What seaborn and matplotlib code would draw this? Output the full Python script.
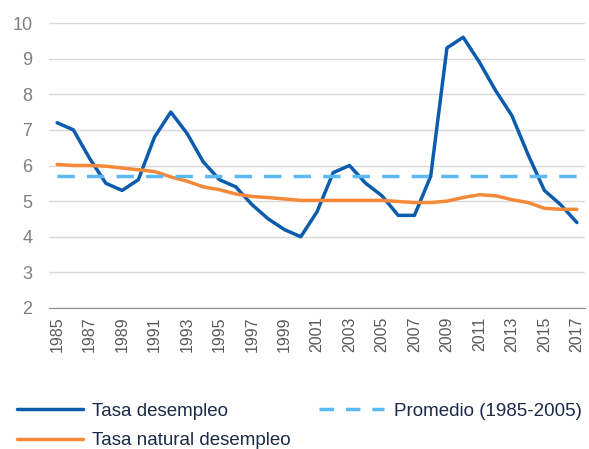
import numpy as np
import pandas as pd
import matplotlib
matplotlib.use("Agg")
import matplotlib.pyplot as plt
import seaborn as sns
from matplotlib.lines import Line2D
from matplotlib.ticker import FixedLocator

years = list(range(1985, 2018))
tasa_desempleo = [7.2, 7.0, 6.2, 5.5, 5.3, 5.6, 6.8, 7.5, 6.9, 6.1, 5.6, 5.4, 4.9,
                  4.5, 4.2, 4.0, 4.7, 5.8, 6.0, 5.5, 5.15, 4.6, 4.6, 5.7, 9.3, 9.6,
                  8.9, 8.1, 7.4, 6.3, 5.3, 4.9, 4.4]
tasa_natural = [6.03, 6.0, 6.0, 5.98, 5.93, 5.88, 5.83, 5.68, 5.56, 5.4, 5.32, 5.2,
                5.13, 5.1, 5.06, 5.02, 5.02, 5.02, 5.02, 5.02, 5.02, 4.99, 4.96, 4.96,
                5.0, 5.1, 5.18, 5.15, 5.04, 4.96, 4.8, 4.77, 4.77]
promedio = 5.7
promedio_span = [1985, 2017]

c_blue = "#0B5CAD"
c_orange = "#F5893A"
c_light = "#5BB9F6"

sns.set_style("white")
plt.rcParams["font.family"] = ["Liberation Sans", "DejaVu Sans"]

df = pd.DataFrame({"year": years, "tasa": tasa_desempleo, "natural": tasa_natural})

fig = plt.figure(figsize=(5.89, 4.49), dpi=100)
ax = fig.add_axes([49 / 589, 1 - 308 / 449, 536 / 589, 285 / 449])

sns.lineplot(data=df, x="year", y="tasa", color=c_blue, linewidth=2.5, ax=ax)
sns.lineplot(data=df, x="year", y="natural", color=c_orange, linewidth=2.5, ax=ax)
sns.lineplot(x=promedio_span, y=[promedio, promedio], color=c_light, linewidth=2.5,
             ax=ax).lines[-1].set_dashes([5, 3.5])

ax.set_ylim(2, 10)
ax.set_xlim(1984.5, 2017.5)
ax.set_yticks(range(2, 11))
ax.set_xticks(years[::2])
ax.set_xticklabels([str(y) for y in years[::2]], rotation=90)
ax.xaxis.set_minor_locator(FixedLocator(np.arange(1984.5, 2018, 1)))
ax.tick_params(axis="x", which="major", length=0, pad=6, labelsize=11.5, labelcolor="#595959")
ax.tick_params(axis="x", which="minor", length=4, color="#8C8C8C", width=1)
ax.tick_params(axis="y", length=0, pad=12, labelsize=13, labelcolor="#7F7F7F")
ax.set_xlabel("")
ax.set_ylabel("")
ax.yaxis.grid(True, color="#D9D9D9", linewidth=1)
ax.set_axisbelow(True)
for s in ["left", "right", "top"]:
    ax.spines[s].set_visible(False)
ax.spines["bottom"].set_color("#8C8C8C")

handles = [
    Line2D([], [], color=c_blue, linewidth=2.5),
    Line2D([], [], color=c_orange, linewidth=2.5),
    Line2D([], [], color=c_light, linewidth=2.5, dashes=[4.2, 3.4]),
]
labels = ["Tasa desempleo", "Tasa natural desempleo", "Promedio (1985-2005)"]
leg = fig.legend(handles, labels, ncol=2, frameon=False, loc="lower left",
                 bbox_to_anchor=(0.0, -0.038), fontsize=13.5, handlelength=3.5,
                 handletextpad=0.5, columnspacing=1.5, labelspacing=0.66)
for t in leg.get_texts():
    t.set_color("#1B2A47")

fig.savefig("out.png", dpi=100)
